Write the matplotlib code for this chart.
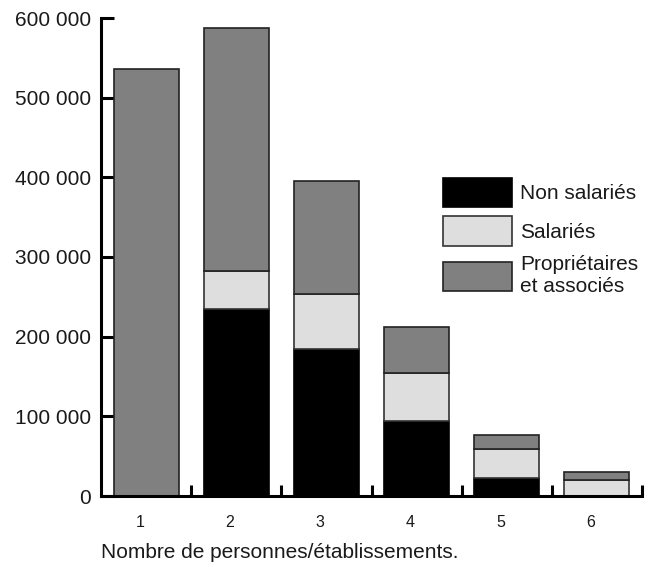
import matplotlib
matplotlib.use('Agg')
from matplotlib import pyplot as plt
from matplotlib.patches import Patch
from matplotlib.ticker import FuncFormatter, FixedLocator
import numpy as np

plt.rcParams['font.family'] = ['Liberation Sans', 'DejaVu Sans']

# nombre de personnes par etablissement
categories = ['1', '2', '3', '4', '5', '6']
non_salaries = [0, 235000, 184000, 94000, 23000, 0]
salaries = [0, 48000, 69000, 60000, 36000, 20500]
proprietaires = [536000, 304000, 142000, 58000, 18000, 10000]

series_labels = ['Non salariés', 'Salariés', 'Propriétaires\net associés']
colors = ['#000000', '#dedede', '#808080']
edges = ['#000000', '#333333', '#222222']

fig = plt.figure(figsize=(6.59, 5.67), dpi=100)
ax = fig.add_axes([101/659, 1 - 496/567, (642 - 101)/659, (496 - 18)/567])

x = np.arange(1, len(categories) + 1)
bottom = np.zeros(len(categories))
for vals, col, ec in zip([non_salaries, salaries, proprietaires], colors, edges):
    vals = np.array(vals)
    ax.bar(x, vals, width=0.72, bottom=bottom, color=col, edgecolor=ec,
           linewidth=1.2, zorder=2)
    bottom += vals

ax.set_xlim(0.5, 6.5)
ax.set_ylim(0, 600000)

for s in ['top', 'right']:
    ax.spines[s].set_visible(False)
ax.spines['left'].set_linewidth(2.2)
ax.spines['bottom'].set_linewidth(2.2)
ax.spines['left'].set_zorder(3)
ax.spines['bottom'].set_zorder(3)

ax.yaxis.set_major_locator(FixedLocator(np.arange(0, 600001, 100000)))
ax.yaxis.set_major_formatter(FuncFormatter(lambda v, p: '{:,}'.format(int(v)).replace(',', ' ')))
ax.tick_params(axis='y', direction='in', length=9, width=2.2, labelsize=15, pad=7,
               labelcolor='#1a1a1a')

ax.set_xticks(x - 0.07)
ax.set_xticklabels(categories)
ax.tick_params(axis='x', which='major', length=0, labelsize=11.5, pad=14,
               labelcolor='#1a1a1a')
ax.set_xticks(np.arange(1.5, 6.6, 1.0), minor=True)
ax.tick_params(axis='x', which='minor', direction='in', length=8, width=2.2)

ax.set_xlabel('Nombre de personnes/établissements.', loc='left', fontsize=15,
              labelpad=9, color='#1a1a1a')

handles = [Patch(facecolor=c, edgecolor=e, linewidth=1.2) for c, e in zip(colors, edges)]
ax.legend(handles, series_labels, loc='upper left',
          bbox_to_anchor=(443/659, 1 - 178/567), bbox_transform=fig.transFigure,
          frameon=False, fontsize=15, borderpad=0, borderaxespad=0,
          handlelength=3.3, handleheight=1.77,
          handletextpad=0.4, labelspacing=0.45, labelcolor='#1a1a1a')

fig.savefig('out.png', dpi=100)
